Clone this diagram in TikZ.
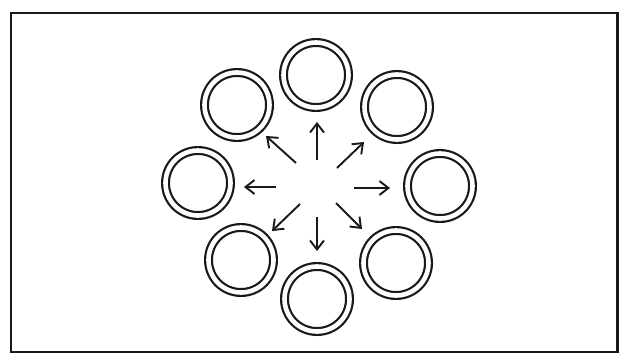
\documentclass[tikz,border=0pt]{standalone}
\usetikzlibrary{arrows.meta}
\begin{document}
\begin{tikzpicture}[x=1pt,y=-1pt,
  ring/.style={circle,draw=black!90,line width=2.2pt,double=white,double distance=4.6pt,minimum size=65pt,inner sep=0pt},
  arr/.style={draw=black!90,line width=1.9pt,-{Straight Barb[length=9pt,width=14pt,line width=1.9pt]}},
  frame/.style={draw=black!90,line width=2.6pt}]
\useasboundingbox (0,0) rectangle (620,357);
\coordinate (fa) at (11,13);
\coordinate (fb) at (617.5,352);
\draw[frame] (fa) rectangle (fb);
% rings
\node[ring] (n)  at (316,75) {};
\node[ring] (ne) at (397,107) {};
\node[ring] (e)  at (440,186) {};
\node[ring] (se) at (396,263) {};
\node[ring] (s)  at (317,299) {};
\node[ring] (sw) at (241,260) {};
\node[ring] (w)  at (198,183) {};
\node[ring] (nw) at (237,105) {};
% arrow tails and heads
\coordinate (tn)  at (317,160); \coordinate (hn)  at (317,122);
\coordinate (tne) at (337,168); \coordinate (hne) at (364,142);
\coordinate (te)  at (354,188); \coordinate (he)  at (390,188);
\coordinate (tse) at (336,203); \coordinate (hse) at (362,229);
\coordinate (ts)  at (317,217); \coordinate (hs)  at (317,251);
\coordinate (tsw) at (300,204); \coordinate (hsw) at (272,231);
\coordinate (tw)  at (276,187); \coordinate (hw)  at (244,187);
\coordinate (tnw) at (296,163); \coordinate (hnw) at (266,136);
\draw[arr] (tn) -- (hn);
\draw[arr] (tne) -- (hne);
\draw[arr] (te) -- (he);
\draw[arr] (tse) -- (hse);
\draw[arr] (ts) -- (hs);
\draw[arr] (tsw) -- (hsw);
\draw[arr] (tw) -- (hw);
\draw[arr] (tnw) -- (hnw);
\end{tikzpicture}
\end{document}
